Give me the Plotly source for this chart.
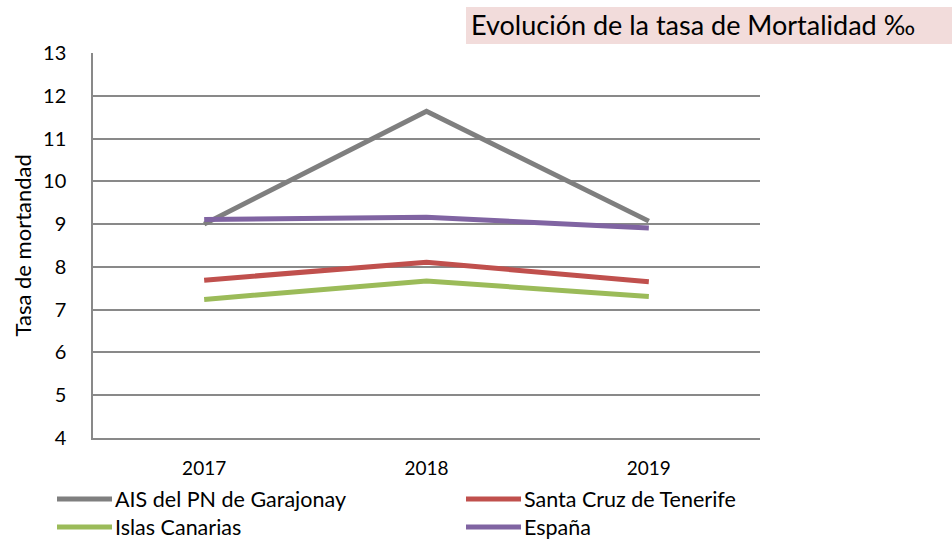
import plotly.graph_objects as go

years = ["2017", "2018", "2019"]
ais_garajonay = [9.00, 11.64, 9.07]
santa_cruz = [7.69, 8.11, 7.65]
islas_canarias = [7.24, 7.67, 7.31]
espana = [9.11, 9.16, 8.91]
y_ticks = [4, 5, 6, 7, 8, 9, 10, 11, 12, 13]
series_names = ["AIS del PN de Garajonay", "Santa Cruz de Tenerife", "Islas Canarias", "España"]
series_values = [ais_garajonay, santa_cruz, islas_canarias, espana]
series_colors = ["#7f7f7f", "#c0504d", "#9bbb59", "#8064a2"]

FONT = "Lato, Calibri, Carlito, sans-serif"
W, H = 952, 542
L, R, T, B = 93, 192, 53, 104
pw = W - L - R
ph = H - T - B


def px_x(x):
    return (x - L) / pw


def px_y(y):
    return (H - B - y) / ph


fig = go.Figure()
for name, vals, col in zip(series_names, series_values, series_colors):
    fig.add_trace(go.Scatter(x=years, y=vals, name=name, mode="lines",
                             line=dict(color=col, width=5), showlegend=False))

fig.update_layout(
    width=W, height=H,
    margin=dict(l=L, r=R, t=T, b=B),
    paper_bgcolor="white", plot_bgcolor="white",
    font=dict(family=FONT, size=20, color="#000000"),
    showlegend=False,
    xaxis=dict(type="category", showgrid=False, showline=True, linecolor="#898989",
               linewidth=1.5, ticks="", tickfont=dict(size=19), ticklabelstandoff=12,
               range=[-0.5, 2.5], automargin=False),
    yaxis=dict(range=[4, 13], tickvals=y_ticks, showgrid=True, gridcolor="#898989",
               gridwidth=1.5, showline=True, linecolor="#898989", linewidth=1.5,
               ticks="", tickfont=dict(size=20), ticklabelstandoff=21, zeroline=False,
               automargin=False),
)

# y-axis title
fig.add_annotation(text="Tasa de mortandad", xref="paper", yref="paper",
                   x=px_x(22), y=0.5, xanchor="center", yanchor="middle",
                   textangle=-90, showarrow=False,
                   font=dict(family=FONT, size=22, color="#000000"))

# title box
fig.add_shape(type="rect", xref="paper", yref="paper",
              x0=px_x(466), x1=px_x(W), y0=px_y(44), y1=px_y(7),
              fillcolor="#f2dcdb", line=dict(width=0), layer="below")
fig.add_annotation(text="Evolución de la tasa de Mortalidad ‰", xref="paper", yref="paper",
                   x=px_x(469), y=px_y(25), xanchor="left", yanchor="middle",
                   showarrow=False, font=dict(family=FONT, size=27, color="#000000"))

# legend (two columns)
leg_pos = [(57, 499), (466, 499), (57, 527), (466, 527)]
for (lx, ly), name, col in zip(leg_pos, series_names, series_colors):
    fig.add_shape(type="line", xref="paper", yref="paper",
                  x0=px_x(lx), x1=px_x(lx + 55), y0=px_y(ly), y1=px_y(ly),
                  line=dict(color=col, width=5))
    fig.add_annotation(text=name, xref="paper", yref="paper",
                       x=px_x(lx + 57), y=px_y(ly), xanchor="left", yanchor="middle",
                       showarrow=False, borderpad=0,
                       font=dict(family=FONT, size=21.5, color="#000000"))

fig.write_html("out.html", config={"displayModeBar": False},
               post_script="document.body.style.margin='0';document.body.style.overflow='hidden';")
